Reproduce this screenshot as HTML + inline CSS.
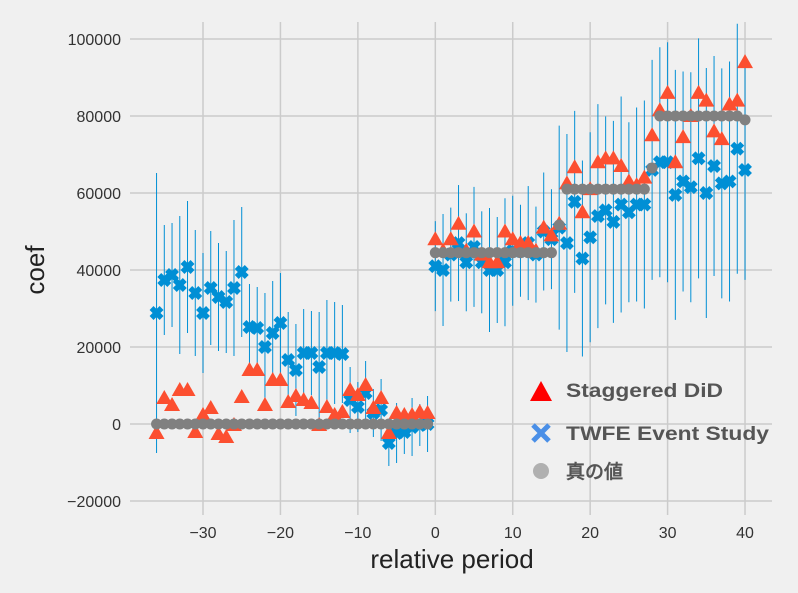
<!DOCTYPE html>
<html><head><meta charset="utf-8"><style>
html,body{margin:0;padding:0;background:#f0f0f0;}
svg{display:block;}
text{font-family:"Liberation Sans","DejaVu Sans",sans-serif;}
</style></head><body>
<svg id="s" width="798" height="593" xmlns="http://www.w3.org/2000/svg">
<rect width="798" height="593" fill="#f0f0f0"/>
<g id="grid" stroke="#cbcbcb" stroke-width="1.5"></g>
<g id="ticks" font-size="16" fill="#333"></g>
<g id="eb" stroke="#008fd5" stroke-width="1"></g>
<g id="bx" fill="#008fd5"></g>
<g id="rt" fill="#fc4f30"></g>
<g id="gd" fill="#808080"></g>
<text x="452" y="568" font-size="26" fill="#222" text-anchor="middle">relative period</text>
<text transform="translate(44,270) rotate(-90)" font-size="26" fill="#222" text-anchor="middle">coef</text>
<g font-family="'DejaVu Sans','Noto Sans CJK JP',sans-serif" font-weight="bold" font-size="19" fill="#555">
<polygon points="530,401 552,401 541,381" fill="#ff0000"/>
<text x="566" y="397" font-family="'DejaVu Sans',sans-serif" textLength="157" lengthAdjust="spacingAndGlyphs">Staggered DiD</text>
<path d="M533,425 L549,441 M549,425 L533,441" stroke="#4a8fe7" stroke-width="5"/>
<text x="566" y="440" font-family="'DejaVu Sans',sans-serif" textLength="203" lengthAdjust="spacingAndGlyphs">TWFE Event Study</text>
<circle cx="541" cy="471" r="8" fill="#b0b0b0"/>
<text x="566" y="478" font-family="'Noto Sans CJK JP',sans-serif" textLength="57" lengthAdjust="spacingAndGlyphs">真の値</text>
</g>
</svg>
<script>
const NS="http://www.w3.org/2000/svg";
function X(t){return 435.3+7.743*t;}
function Y(v){return 424-v*0.00385;}
function el(g,tag,a){const e=document.createElementNS(NS,tag);for(const k in a)e.setAttribute(k,a[k]);document.getElementById(g).appendChild(e);return e;}
for(let t=-30;t<=40;t+=10){el('grid','line',{x1:X(t),x2:X(t),y1:22,y2:515});const tx=el('ticks','text',{x:X(t),y:538,'text-anchor':'middle'});tx.textContent=(t<0?'\u2212'+(-t):t);}
for(let v=-20000;v<=100000;v+=20000){el('grid','line',{x1:130,x2:772,y1:Y(v),y2:Y(v)});const tx=el('ticks','text',{x:121,y:Y(v)+6,'text-anchor':'end'});tx.textContent=(v<0?'\u2212'+(-v):v);}
const bneg=[313,280,275,285,267,293,313,288,297,302,288,272,327,328,347,333,323,360,370,353,353,367,353,353,354,400,407,393,413,410,443,433,432,427,425,424];
const rneg=[433,398,405,390,390,432,415,408,434,437,425,397,370,370,405,380,380,402,396,400,403,425,407,415,412,390,395,385,408,398,433,413,415,415,412,413];
const bpos=[41000,40000,44000,47000,42000,46000,42000,40000,40000,42000,45000,45000,47000,44000,50000,48000,51000,47000,57700,43000,48500,54000,55500,52500,57000,55000,57000,57000,66000,68000,68000,59500,63000,61500,69000,60000,67000,62500,63000,71500,66000];
const rpos=[48000,45000,48000,52000,45000,50000,44000,42000,42000,50000,48000,47000,47000,45000,51000,49000,52000,62500,66700,55000,61000,68000,69000,69000,67000,63000,62000,64000,75000,81500,86000,68000,74500,80000,86000,84000,76000,74000,83000,84000,94000];
function tv(t){if(t<0)return 0;if(t<=15)return 44500;if(t==16)return 51700;if(t<=27)return 61000;if(t==28)return 66500;if(t==40)return 79000;return 80000;}
const pts=[];
for(let t=-36;t<=40;t++){
 let by,ry;
 if(t<0){by=bneg[t+36];ry=rneg[t+36];}else{by=Y(bpos[t]);ry=Y(rpos[t]);}
 let h;
 if(t<0){h=t<-24?(t==-36?140:70+((t*37)%20)):(t<-11?55+((t*13)%15):35+((t*7)%15));}
 else{h=t<=15?45+((t*11)%20):(t<=27?90+((t*7)%25):110+((t*5)%20));}
 pts.push([t,by,ry,h]);
}
for(const [t,by,ry,h] of pts){const x=X(t);el('eb','line',{x1:x,x2:x,y1:by-h,y2:by+h});}
for(const [t,by] of pts){const x=X(t);el('bx','path',{d:`M${x-5},${by-5}L${x+5},${by+5}M${x+5},${by-5}L${x-5},${by+5}`,stroke:'#008fd5','stroke-width':5.5});}
for(const [t,,ry] of pts){const x=X(t);el('rt','polygon',{points:`${x-8},${ry+6} ${x+8},${ry+6} ${x},${ry-8}`});}
for(let t=-36;t<=40;t++){el('gd','circle',{cx:X(t),cy:Y(tv(t)),r:5.5});}
</script>
</body></html>
